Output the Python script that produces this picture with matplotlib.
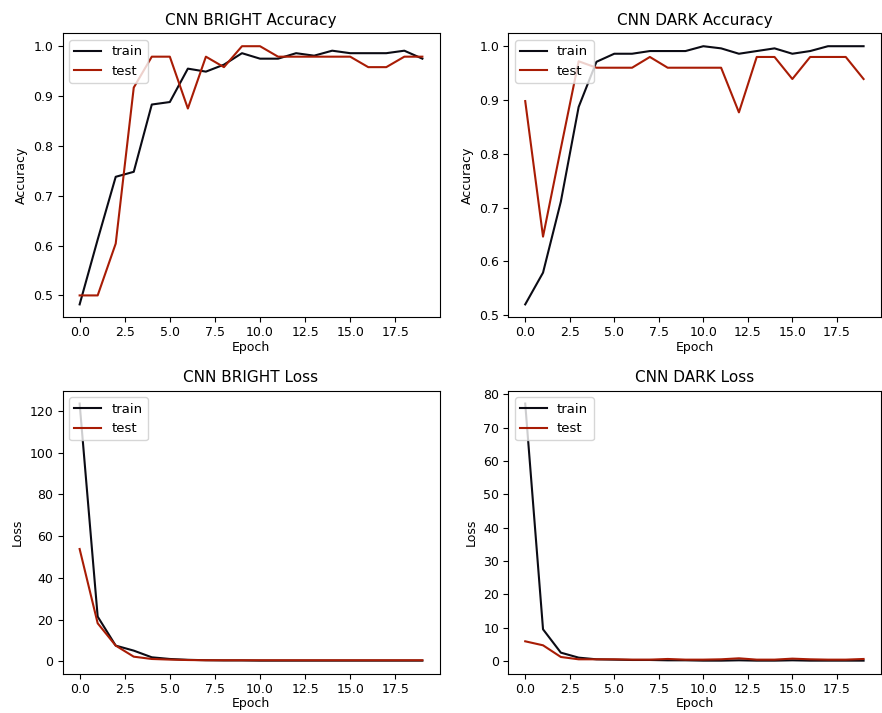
import matplotlib
matplotlib.use("Agg")
import matplotlib.pyplot as plt
import numpy as np

epochs = list(range(20))

bright_acc_train = [0.482, 0.612, 0.738, 0.748, 0.883, 0.888, 0.955, 0.949, 0.963, 0.986,
                    0.975, 0.975, 0.986, 0.981, 0.991, 0.986, 0.986, 0.986, 0.991, 0.975]
bright_acc_test = [0.500, 0.500, 0.604, 0.917, 0.979, 0.979, 0.875, 0.979, 0.958, 1.000,
                   1.000, 0.979, 0.979, 0.979, 0.979, 0.979, 0.958, 0.958, 0.979, 0.979]

dark_acc_train = [0.520, 0.579, 0.711, 0.887, 0.971, 0.986, 0.986, 0.991, 0.991, 0.991,
                  1.000, 0.996, 0.986, 0.991, 0.996, 0.986, 0.991, 1.000, 1.000, 1.000]
dark_acc_test = [0.898, 0.646, 0.810, 0.972, 0.960, 0.960, 0.960, 0.980, 0.960, 0.960,
                 0.960, 0.960, 0.877, 0.980, 0.980, 0.939, 0.980, 0.980, 0.980, 0.939]

bright_loss_train = [123.5, 21.4, 7.5, 5.1, 1.9, 1.1, 0.7, 0.5, 0.4, 0.4,
                     0.3, 0.3, 0.3, 0.3, 0.3, 0.3, 0.3, 0.3, 0.3, 0.3]
bright_loss_test = [53.8, 18.2, 7.5, 2.2, 1.1, 0.8, 0.6, 0.5, 0.5, 0.5,
                    0.5, 0.5, 0.5, 0.5, 0.5, 0.5, 0.5, 0.5, 0.5, 0.5]

dark_loss_train = [77.2, 9.5, 2.5, 1.0, 0.5, 0.4, 0.3, 0.3, 0.2, 0.2,
                   0.1, 0.1, 0.2, 0.1, 0.1, 0.2, 0.1, 0.1, 0.1, 0.1]
dark_loss_test = [5.9, 4.7, 1.2, 0.5, 0.5, 0.5, 0.4, 0.4, 0.6, 0.4,
                  0.4, 0.5, 0.8, 0.4, 0.4, 0.7, 0.5, 0.4, 0.4, 0.6]

titles = ["CNN BRIGHT Accuracy", "CNN DARK Accuracy", "CNN BRIGHT Loss", "CNN DARK Loss"]
ylabels = ["Accuracy", "Accuracy", "Loss", "Loss"]
series = [(bright_acc_train, bright_acc_test), (dark_acc_train, dark_acc_test),
          (bright_loss_train, bright_loss_test), (dark_loss_train, dark_loss_test)]

TRAIN_C = "#0b0b14"
TEST_C = "#a81c05"

W, H = 882, 713
fig = plt.figure(figsize=(W / 100, H / 100), dpi=100)
boxes = [
    (62.5, 33.3, 439.5, 317.3),
    (508.3, 33.3, 880.5, 317.3),
    (62.5, 390.7, 439.5, 673.5),
    (508.3, 390.7, 880.5, 673.5),
]
for (x0, y0, x1, y1), title, ylab, (tr, te) in zip(boxes, titles, ylabels, series):
    ax = fig.add_axes([x0 / W, (H - y1) / H, (x1 - x0) / W, (y1 - y0) / H])
    ax.plot(epochs, tr, color=TRAIN_C, lw=1.5, label="train")
    ax.plot(epochs, te, color=TEST_C, lw=1.5, label="test")
    ax.set_title(title, fontsize=11)
    ax.set_xlabel("Epoch", fontsize=9, labelpad=1)
    ax.set_ylabel(ylab, fontsize=9)
    ax.tick_params(labelsize=9, pad=3)
    ax.legend(loc="upper left", fontsize=9.5)

fig.savefig("out.png", dpi=100)
